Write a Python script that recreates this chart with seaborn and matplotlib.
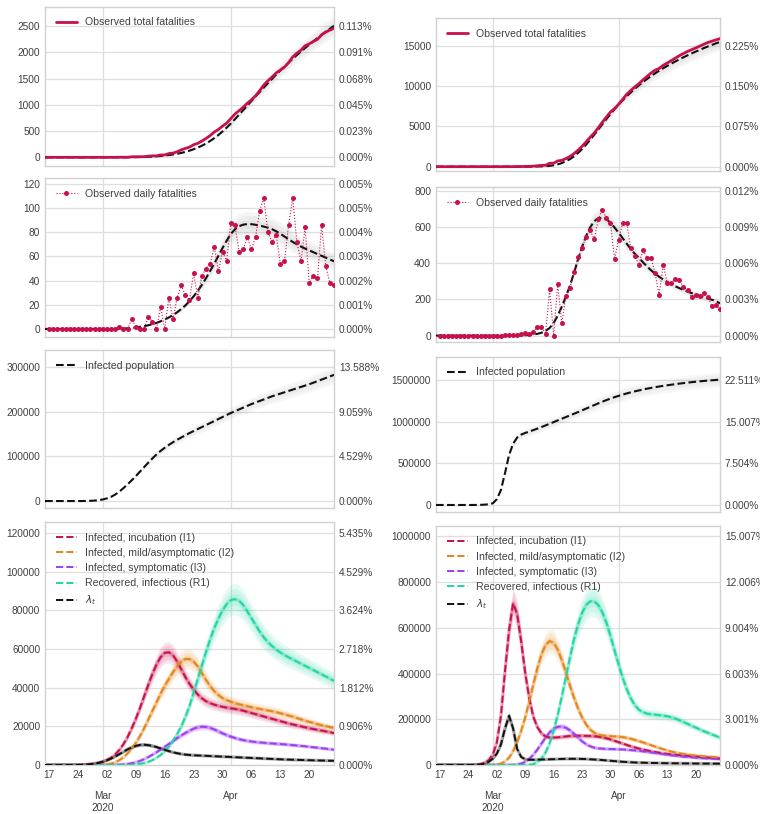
import numpy as np
import pandas as pd
import matplotlib
matplotlib.use("Agg")
import matplotlib.pyplot as plt
import matplotlib.dates as mdates
from matplotlib.ticker import FixedLocator, FuncFormatter, NullFormatter
import seaborn as sns

sns.set_style("whitegrid")
plt.rcParams["font.family"] = ["Liberation Sans", "DejaVu Sans"]
plt.rcParams["mathtext.fontset"] = "dejavusans"

dates = pd.date_range("2020-02-16", "2020-04-26", freq="D")

# ---------------- Region A (left column) ----------------
pop_a = 2207780
a_obs_daily = [0] * 17 + [
    2, 0, 0, 8, 2, 0, 0, 10, 6, 0, 18, 0, 26, 8, 26, 36, 28, 24, 46, 26, 44, 50, 54, 68, 48, 64, 56,
    88, 86, 64, 66, 76, 66, 76, 98, 108, 80, 72, 78, 54, 56, 86, 108, 72, 56, 84, 38, 44, 42, 86,
    52, 38, 36]
a_fit_daily = [
    0, 0, 0, 0, 0, 0, 0, 0, 0, 0,
    0, 0, 0, 0, 0, 0, 0, 0, 0.2, 0.3,
    0.5, 0.8, 1.2, 1.7, 2.3, 3, 4, 5, 6.3, 7.8,
    9.5, 11.5, 13.8, 16.5, 19.5, 23, 27, 31.5, 36.5, 42,
    48, 54, 60.5, 67, 73, 78.5, 82.5, 85, 86.3, 86.8,
    86.7, 86.2, 85.5, 84.7, 83.8, 82.5, 80.8, 78.8, 76.5, 74.2,
    72, 70, 68.2, 66.5, 65, 63.5, 62, 60.5, 59, 57.5,
    56]
a_infected = [
    0, 0, 0, 0, 0, 0, 0, 0, 0, 0,
    200, 500, 1000, 2000, 3500, 6000, 9500, 14500, 21000, 29000,
    37500, 46500, 56000, 66000, 76000, 86000, 95500, 104500, 112500, 119500,
    126000, 132000, 137500, 142500, 147500, 152500, 157000, 161500, 166000, 170500,
    175000, 179500, 184000, 188500, 193000, 197500, 201500, 205500, 209500, 213500,
    217500, 221000, 224500, 228000, 231500, 235000, 238000, 241000, 244000, 247000,
    250000, 253000, 256000, 259000, 262000, 265500, 269000, 272500, 276000, 279500,
    283000]
a_i1 = [
    0, 0, 0, 0, 0, 0, 0, 0, 50, 100,
    200, 400, 700, 1100, 1700, 2600, 3800, 5500, 7800, 10800,
    14500, 19000, 24000, 29500, 35500, 41500, 47000, 52000, 55800, 58000,
    58300, 56800, 53500, 49500, 45500, 42000, 39000, 36500, 34500, 33000,
    32000, 31200, 30600, 30100, 29700, 29300, 29000, 28600, 28100, 27500,
    26900, 26300, 25700, 25100, 24500, 23900, 23300, 22700, 22100, 21500,
    21000, 20500, 20000, 19500, 19000, 18600, 18200, 17800, 17400, 17000,
    16500]
a_i2 = [
    0, 0, 0, 0, 0, 0, 0, 0, 0, 0,
    0, 0, 0, 0, 100, 300, 700, 1400, 2500, 4000,
    6000, 8500, 11500, 15000, 19000, 23500, 28000, 32500, 37000, 41000,
    44500, 48000, 51000, 53500, 54800, 54800, 53500, 51000, 47500, 44000,
    40800, 38200, 36200, 34600, 33500, 32700, 32000, 31400, 30900, 30400,
    29900, 29400, 29000, 28600, 28200, 27800, 27300, 26800, 26200, 25600,
    25000, 24300, 23600, 22900, 22300, 21700, 21100, 20600, 20100, 19600,
    19100]
a_i3 = [
    0, 0, 0, 0, 0, 0, 0, 0, 0, 0,
    0, 0, 0, 0, 0, 0, 0, 50, 150, 300,
    550, 900, 1400, 2100, 3000, 4100, 5300, 6600, 8000, 9400,
    10900, 12400, 13900, 15300, 16600, 17800, 18800, 19500, 19800, 19700,
    19200, 18400, 17400, 16400, 15500, 14700, 14000, 13400, 12900, 12500,
    12200, 11900, 11700, 11500, 11300, 11150, 11000, 10850, 10700, 10500,
    10300, 10100, 9900, 9700, 9450, 9200, 8950, 8700, 8450, 8200,
    7950]
a_r1 = [
    0, 0, 0, 0, 0, 0, 0, 0, 0, 0,
    0, 0, 0, 0, 0, 0, 0, 0, 0, 0,
    50, 150, 300, 600, 1000, 1600, 2500, 3700, 5200, 7100,
    9500, 12500, 16000, 20000, 25000, 30500, 37500, 44500, 51500, 58500,
    65000, 70800, 75800, 80000, 83200, 85300, 85800, 85000, 82800, 79500,
    76000, 72500, 69000, 66000, 63500, 61500, 59700, 58200, 56900, 55700,
    54600, 53500, 52400, 51300, 50200, 49100, 48000, 46900, 45800, 44700,
    43500]
a_lam = [
    0, 0, 0, 0, 0, 0, 0, 0, 50, 100,
    200, 400, 700, 1100, 1700, 2400, 3300, 4400, 5600, 6900,
    8100, 9100, 9900, 10400, 10500, 10300, 9900, 9300, 8600, 7900,
    7200, 6600, 6100, 5700, 5400, 5200, 5050, 4950, 4850, 4750,
    4650, 4550, 4450, 4350, 4250, 4150, 4050, 3950, 3850, 3750,
    3650, 3550, 3450, 3350, 3250, 3150, 3050, 2950, 2870, 2800,
    2730, 2660, 2600, 2540, 2480, 2420, 2370, 2320, 2270, 2220,
    2170]

# ---------------- Region B (right column) ----------------
pop_b = 6663400
b_obs_daily = [0] * 16 + [1, 2, 3] + [
    4, 7, 17, 11, 20, 50, 50, 9, 255, 0,
    285, 68, 219, 261, 353, 432, 485, 546, 581, 531,
    644, 691, 651, 623, 423, 528, 623, 620, 482, 440,
    392, 473, 430, 430, 344, 222, 390, 292, 292, 314,
    307, 267, 252, 215, 224, 219, 237, 215, 162, 167,
    149]
b_fit_daily = [
    0, 0, 0, 0, 0, 0, 0, 0, 0, 0,
    0, 0, 0, 0, 0, 0, 0, 0, 0, 0,
    0.5, 1, 2, 4, 6, 10, 16, 26, 42, 70,
    110, 160, 215, 275, 345, 420, 490, 550, 598, 632,
    648, 650, 643, 623, 597, 568, 538, 508, 478, 452,
    430, 405, 382, 361, 342, 325, 310, 296, 283, 272,
    262, 252, 243, 235, 227, 219, 212, 205, 198, 191,
    178]
b_infected = [
    0, 0, 0, 0, 0, 0, 0, 0, 0, 0,
    1000, 2000, 4000, 9000, 20000, 70000, 180000, 380000, 600000, 735000,
    810000, 845000, 865000, 882000, 899000, 917000, 936000, 955000, 975000, 995000,
    1015000, 1035000, 1055000, 1075000, 1095000, 1115000, 1136000, 1157000, 1178000, 1199000,
    1220000, 1240000, 1259000, 1277000, 1294000, 1310000, 1325000, 1339000, 1352000, 1364000,
    1375000, 1386000, 1396000, 1405000, 1414000, 1422000, 1430000, 1437000, 1444000, 1451000,
    1457000, 1463000, 1469000, 1474000, 1479000, 1484000, 1489000, 1493000, 1497000, 1501000,
    1505000]
b_i1 = [
    0, 0, 0, 0, 0, 0, 0, 0, 0, 500,
    1500, 4000, 10000, 22000, 45000, 100000, 215000, 410000, 590000, 708000,
    660000, 540000, 400000, 290000, 210000, 165000, 138000, 125000, 120000, 120000,
    121000, 123000, 125000, 127000, 128000, 128000, 128000, 127500, 127000, 126000,
    124000, 121000, 117000, 112000, 106000, 100000, 94000, 88000, 82000, 77000,
    72000, 68000, 64000, 60500, 57000, 54000, 51000, 48500, 46500, 44500,
    43000, 41500, 40000, 38500, 37000, 35500, 34000, 32500, 31000, 29500,
    28000]
b_i2 = [
    0, 0, 0, 0, 0, 0, 0, 0, 0, 0,
    0, 0, 0, 0, 500, 2000, 6000, 15000, 32000, 60000,
    100000, 150000, 210000, 280000, 355000, 425000, 485000, 525000, 542000, 535000,
    505000, 460000, 405000, 348000, 295000, 248000, 208000, 177000, 155000, 141000,
    133000, 129000, 127000, 126000, 125000, 124000, 122000, 119000, 115000, 110000,
    105000, 99000, 93000, 87000, 81000, 75000, 69000, 64000, 59000, 55000,
    51500, 48500, 46000, 43500, 41500, 39500, 38000, 36700, 35500, 34400,
    33500]
b_i3 = [
    0, 0, 0, 0, 0, 0, 0, 0, 0, 0,
    0, 0, 0, 0, 0, 0, 0, 0, 0, 500,
    2000, 6000, 14000, 27000, 45000, 68000, 94000, 120000, 143000, 159000,
    167000, 168000, 163000, 152000, 137000, 120000, 104000, 91000, 82000, 76000,
    73000, 71500, 70500, 70000, 69500, 69000, 68000, 67000, 65500, 64000,
    62000, 60000, 57500, 55000, 52500, 50000, 47500, 45000, 42500, 40500,
    38500, 36500, 35000, 33500, 32000, 30500, 29500, 28500, 27500, 26500,
    25500]
b_r1 = [
    0, 0, 0, 0, 0, 0, 0, 0, 0, 0,
    0, 0, 0, 0, 0, 0, 0, 0, 0, 0,
    0, 0, 0, 1000, 4000, 12000, 28000, 55000, 95000, 150000,
    220000, 300000, 385000, 470000, 550000, 615000, 665000, 700000, 716000, 716000,
    700000, 668000, 622000, 565000, 502000, 440000, 382000, 332000, 292000, 262000,
    242000, 231000, 225000, 222000, 220000, 218000, 216000, 213000, 209000, 203000,
    196000, 188000, 180000, 172000, 164000, 156000, 148000, 141000, 134000, 127000,
    120000]
b_lam = [
    0, 0, 0, 0, 0, 0, 0, 0, 0, 0,
    500, 2000, 6000, 14000, 28000, 50000, 90000, 160000, 215000, 160000,
    70000, 35000, 25000, 23000, 23000, 23500, 24000, 24500, 25000, 25500,
    26000, 26500, 27000, 27000, 27000, 27000, 26500, 26000, 25000, 24000,
    23000, 21500, 20000, 18500, 17000, 15500, 14000, 13000, 12000, 11000,
    10500, 10000, 9500, 9000, 8700, 8400, 8100, 7800, 7600, 7400,
    7200, 7000, 6800, 6600, 6400, 6300, 6200, 6100, 6000, 5900,
    5800]

compartment_labels = ["Infected, incubation (I1)", "Infected, mild/asymptomatic (I2)",
                      "Infected, symptomatic (I3)", "Recovered, infectious (R1)", r"$\lambda_t$"]

RED = "#c8104a"
ORANGE = "#e3861b"
PURPLE = "#9d3ef2"
TEAL = "#20d6a4"
BLACK = "#111111"
compartment_colors = [RED, ORANGE, PURPLE, TEAL, BLACK]

TICK_SIZE = 7.3
LEGEND_SIZE = 7.6
TEXT_COLOR = "0.25"

fig = plt.figure(figsize=(7.6, 8.14), dpi=100)


def month_label(v, pos):
    d = mdates.num2date(v)
    text = d.strftime("%b")
    if d.month == 3:
        text += "\n" + d.strftime("%Y")
    return text


def finish(ax, ylim, yticks, pop, bottom=False):
    ax.set_xlim(dates[0], dates[-1])
    ax.set_ylim(*ylim)
    ax.set_xlabel("")
    ax.set_ylabel("")
    ax.yaxis.set_major_locator(FixedLocator(yticks))
    ax.yaxis.set_major_formatter(FuncFormatter(lambda v, p: f"{v:.0f}"))
    ax.xaxis.set_major_locator(mdates.MonthLocator())
    ax.xaxis.set_minor_locator(mdates.WeekdayLocator(byweekday=mdates.MO))
    if bottom:
        ax.xaxis.set_major_formatter(FuncFormatter(month_label))
        ax.xaxis.set_minor_formatter(mdates.DateFormatter("%d"))
    else:
        ax.xaxis.set_major_formatter(NullFormatter())
        ax.xaxis.set_minor_formatter(NullFormatter())
    ax.grid(True, which="major", color="0.87", linewidth=0.9)
    ax.grid(False, which="minor")
    ax.tick_params(which="both", length=0, pad=3.5, labelsize=TICK_SIZE, labelcolor=TEXT_COLOR)
    if bottom:
        # month names sit on a second row below the weekly day numbers
        ax.tick_params(axis="x", which="major", pad=19)
    for s in ax.spines.values():
        s.set_color("0.82")
        s.set_linewidth(1.0)
    tw = ax.twinx()
    tw.set_ylim(*ylim)
    tw.yaxis.set_major_locator(FixedLocator(yticks))
    tw.yaxis.set_major_formatter(FuncFormatter(lambda v, p: f"{v / pop * 100:.3f}%"))
    tw.grid(False)
    tw.tick_params(length=0, pad=3.5, labelsize=TICK_SIZE, labelcolor=TEXT_COLOR)
    for s in tw.spines.values():
        s.set_visible(False)


def band(ax, x, y, color, rels, alpha):
    y = np.asarray(y, dtype=float)
    for r in rels:
        ax.fill_between(x, y * (1 - r), y * (1 + r), color=color, alpha=alpha,
                        linewidth=0, zorder=1)


def legend(ax, handles, labels):
    ax.legend(handles, labels, loc="upper left", frameon=False, fontsize=LEGEND_SIZE,
              handlelength=2.0, borderaxespad=0.6, labelcolor=TEXT_COLOR)


def column(x0, w, rows, pop, obs_daily, fit_daily, infected, comps, lims, ticks, spreads):
    obs_total = np.concatenate([[0], np.cumsum(obs_daily)])
    fit_total = np.cumsum(fit_daily)

    # total fatalities
    ax = fig.add_axes([x0, rows[0][0], w, rows[0][1]])
    band(ax, dates, fit_total, "0.55", [spreads[0] * k for k in (0.35, 0.7, 1.0)], 0.07)
    sns.lineplot(x=dates, y=fit_total, ax=ax, color=BLACK, linestyle="--", linewidth=1.5,
                 zorder=3)
    sns.lineplot(x=dates, y=obs_total, ax=ax, color=RED, linewidth=2.0, zorder=4)
    legend(ax, [ax.lines[-1]], ["Observed total fatalities"])
    finish(ax, lims[0], ticks[0], pop)

    # daily fatalities
    ax = fig.add_axes([x0, rows[1][0], w, rows[1][1]])
    band(ax, dates, fit_daily, "0.55", [spreads[1] * k for k in (0.35, 0.7, 1.0)], 0.08)
    sns.lineplot(x=dates, y=fit_daily, ax=ax, color=BLACK, linestyle="--", linewidth=1.5,
                 zorder=3)
    sns.lineplot(x=dates[1:], y=obs_daily, ax=ax, color=RED, linestyle=":", linewidth=0.8,
                 marker="o", markersize=3.6, markeredgewidth=0, zorder=4)
    legend(ax, [ax.lines[-1]], ["Observed daily fatalities"])
    finish(ax, lims[1], ticks[1], pop)

    # infected population
    ax = fig.add_axes([x0, rows[2][0], w, rows[2][1]])
    band(ax, dates, infected, "0.55", [spreads[2] * k for k in (0.35, 0.7, 1.0)], 0.06)
    sns.lineplot(x=dates, y=infected, ax=ax, color=BLACK, linestyle="--", linewidth=1.5,
                 zorder=3)
    legend(ax, [ax.lines[-1]], ["Infected population"])
    finish(ax, lims[2], ticks[2], pop)

    # compartments
    ax = fig.add_axes([x0, rows[3][0], w, rows[3][1]])
    handles = []
    for vals, color in zip(comps, compartment_colors):
        band(ax, dates, vals, color, [0.035, 0.065, 0.095], 0.11)
        sns.lineplot(x=dates, y=vals, ax=ax, color=color, linewidth=2.4, alpha=0.32, zorder=2)
    for vals, color in zip(comps, compartment_colors):
        sns.lineplot(x=dates, y=vals, ax=ax, color=color, linestyle="--", linewidth=1.4,
                     zorder=3)
        handles.append(ax.lines[-1])
    legend(ax, handles, compartment_labels)
    finish(ax, lims[3], ticks[3], pop, bottom=True)


column(45 / 760, 289 / 760,
       [(0.7964, 0.1953), (0.5864, 0.1946), (0.3755, 0.1945), (0.0602, 0.2985)],
       pop_a, a_obs_daily, a_fit_daily, a_infected, [a_i1, a_i2, a_i3, a_r1, a_lam],
       [(-160, 2868), (-6.4, 124.7), (-16400, 338800), (0, 125700)],
       [[0, 500, 1000, 1500, 2000, 2500], [0, 20, 40, 60, 80, 100, 120],
        [0, 100000, 200000, 300000], [0, 20000, 40000, 60000, 80000, 100000, 120000]],
       [0.08, 0.12, 0.07])

column(436 / 760, 284 / 760,
       [(0.7903, 0.1872), (0.5799, 0.1898), (0.3714, 0.1904), (0.0602, 0.2940)],
       pop_b, b_obs_daily, b_fit_daily, b_infected, [b_i1, b_i2, b_i3, b_r1, b_lam],
       [(-500, 18440), (-35, 818), (-80400, 1780000), (0, 1047000)],
       [[0, 5000, 10000, 15000], [0, 200, 400, 600, 800],
        [0, 500000, 1000000, 1500000], [0, 200000, 400000, 600000, 800000, 1000000]],
       [0.07, 0.08, 0.06])

fig.savefig("out.png", dpi=100)
